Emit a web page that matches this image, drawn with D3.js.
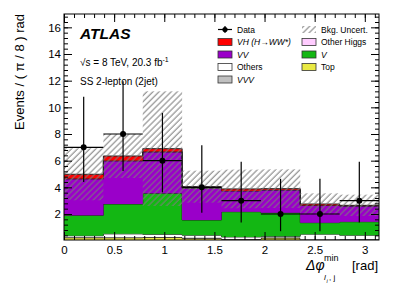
<!DOCTYPE html>
<meta charset="utf-8">
<script src="https://d3js.org/d3.v7.min.js"></script>
<style>
  body { margin: 0; background: #fff; }
  text { font-family: "Liberation Sans", Arial, sans-serif; }
</style>
<body></body>
<script>
  // data per bin of dphi (8 bins of pi/8)
  var nBins = 8;
  var dataVals = [7, 8, 6, 4, 3, 2, 2, 3];
  var dataErrUp = [3.8, 3.96, 3.58, 3.16, 2.92, 2.64, 2.64, 2.92];
  var dataErrDn = [2.6, 2.77, 2.38, 1.91, 1.63, 1.29, 1.29, 1.63];

  // backgrounds, bottom to top of the stack
  var bkgTop    = [0.22, 0.22, 0.25, 0.18, 0.10, 0.20, 0.06, 0.08];
  var bkgVVV    = [0.03, 0.04, 0.03, 0.03, 0.03, 0.03, 0.03, 0.03];
  var bkgOthers = [0.12, 0.25, 0.20, 0.20, 0.15, 0.10, 0.40, 0.30];
  var bkgV      = [1.53, 2.24, 3.07, 1.14, 1.89, 1.77, 0.86, 1.01];
  var bkgVV     = [2.73, 3.23, 3.10, 2.38, 1.56, 1.70, 1.30, 1.18];
  var sigOtherH = [0.03, 0.04, 0.04, 0.02, 0.02, 0.02, 0.01, 0.01];
  var sigVH     = [0.32, 0.33, 0.21, 0.10, 0.13, 0.08, 0.09, 0.04];
  var bkgUnc    = [1.95, 1.65, 4.3, 1.2, 1.45, 1.45, 0.8, 0.8];

  var yMajor = [2, 4, 6, 8, 10, 12, 14, 16];
  var xMajor = [0, 0.5, 1, 1.5, 2, 2.5, 3];

  var svg = d3.select("body")
    .append("svg")
    .attr("width", 399)
    .attr("height", 286);

  var x = d3.scaleLinear().domain([0, Math.PI]).range([64, 379]);
  var y = d3.scaleLinear().domain([0.05, 17]).range([240, 14]);

  var edges = d3.range(nBins + 1).map(function(i){ return i * Math.PI / nBins; });

  var layers = [
    {key: "top", vals: bkgTop, color: "#eaea44"},
    {key: "vvv", vals: bkgVVV, color: "#c0c0c0"},
    {key: "others", vals: bkgOthers, color: "#ffffff"},
    {key: "v", vals: bkgV, color: "#13b713"},
    {key: "vv", vals: bkgVV, color: "#9a00c9"},
    {key: "oh", vals: sigOtherH, color: "#ffccff"},
    {key: "vh", vals: sigVH, color: "#ff0000"}
  ];

  var rows = d3.range(nBins).map(function(i){
    var r = {};
    layers.forEach(function(l){ r[l.key] = l.vals[i]; });
    return r;
  });
  var stacked = d3.stack().keys(layers.map(function(l){ return l.key; }))(rows);

  // hatch pattern for bkg uncertainty
  var defs = svg.append("defs");
  defs.append("clipPath").attr("id", "plotclip")
    .append("rect").attr("x", 64).attr("y", 14).attr("width", 315).attr("height", 226);
  defs.append("pattern")
    .attr("id", "hatch")
    .attr("patternUnits", "userSpaceOnUse")
    .attr("width", 4.3).attr("height", 10)
    .attr("patternTransform", "rotate(45)")
    .append("line")
    .attr("x1", 1).attr("y1", 0).attr("x2", 1).attr("y2", 10)
    .style("stroke", "#7a7a7a").style("stroke-width", 1);

  var plot = svg.append("g").attr("clip-path", "url(#plotclip)");

  function stepPts(series, which) {
    var pts = series.map(function(d, i){ return [edges[i], d[which]]; });
    pts.push([edges[nBins], series[nBins - 1][which]]);
    return pts;
  }

  var area = d3.area()
    .curve(d3.curveStepAfter)
    .x(function(d){ return x(d[0]); })
    .y0(function(d){ return y(d[1]); })
    .y1(function(d){ return y(d[2]); });

  stacked.forEach(function(s, k){
    var lo = stepPts(s, 0), hi = stepPts(s, 1);
    var pts = lo.map(function(p, i){ return [p[0], p[1], hi[i][1]]; });
    plot.append("path")
      .attr("d", area(pts))
      .style("fill", layers[k].color)
      .style("stroke", "none");
    plot.append("path")
      .attr("d", d3.line().curve(d3.curveStepAfter)
        .x(function(d){ return x(d[0]); })
        .y(function(d){ return y(d[2]); })(pts))
      .style("fill", "none")
      .style("stroke", "#222")
      .style("stroke-width", 1);
  });

  // uncertainty band
  var totals = stacked[stacked.length - 1].map(function(d){ return d[1]; });
  plot.selectAll("rect.unc")
    .data(totals)
    .enter()
    .append("rect")
    .attr("class", "unc")
    .attr("x", function(d, i){ return x(edges[i]); })
    .attr("width", function(d, i){ return x(edges[i + 1]) - x(edges[i]); })
    .attr("y", function(d, i){ return y(d + bkgUnc[i]); })
    .attr("height", function(d, i){ return y(d - bkgUnc[i]) - y(d + bkgUnc[i]); })
    .style("fill", "url(#hatch)");

  // data points
  var pts = svg.append("g");
  dataVals.forEach(function(v, i){
    var cx = x((edges[i] + edges[i + 1]) / 2);
    pts.append("line")
      .attr("x1", x(edges[i])).attr("x2", x(edges[i + 1]))
      .attr("y1", y(v)).attr("y2", y(v))
      .style("stroke", "#000").style("stroke-width", 1.2);
    pts.append("line")
      .attr("x1", cx).attr("x2", cx)
      .attr("y1", y(v + dataErrUp[i])).attr("y2", y(v - dataErrDn[i]))
      .style("stroke", "#000").style("stroke-width", 1.2);
    pts.append("circle")
      .attr("cx", cx).attr("cy", y(v)).attr("r", 3)
      .style("fill", "#000");
  });

  // axes, ticks pointing inward
  function minorVals(lo, hi, step) {
    return d3.range(Math.round((hi - lo) / step) + 1).map(function(i){ return +(lo + i * step).toFixed(2); });
  }
  var yMinor = minorVals(0.4, 16.8, 0.4);
  var xMinor = minorVals(0, 3.1, 0.1);

  function addAxis(axisFn, scale, pos, vals, size, labels) {
    var a = axisFn(scale).tickValues(vals).tickSize(-size).tickPadding(labels ? 5 : 0)
      .tickFormat(labels ? function(d){ return d; } : "");
    var g = svg.append("g").attr("transform", pos).call(a);
    g.select(".domain").remove();
    g.selectAll("line").style("stroke", "#000");
    g.selectAll("text").style("font-size", "11.5px").style("fill", "#000")
      .style("font-family", "'Liberation Sans', Arial, sans-serif");
    return g;
  }
  addAxis(d3.axisLeft, y, "translate(64,0)", yMajor, 8, true).selectAll("text").attr("x", -3);
  addAxis(d3.axisLeft, y, "translate(64,0)", yMinor, 4, false);
  addAxis(d3.axisRight, y, "translate(379,0)", yMajor, 8, false);
  addAxis(d3.axisRight, y, "translate(379,0)", yMinor, 4, false);
  addAxis(d3.axisBottom, x, "translate(0,240)", xMajor, 8, true).selectAll("text").attr("y", 6);
  addAxis(d3.axisBottom, x, "translate(0,240)", xMinor, 4, false);
  addAxis(d3.axisTop, x, "translate(0,14)", xMajor, 8, false);
  addAxis(d3.axisTop, x, "translate(0,14)", xMinor, 4, false);

  svg.append("rect")
    .attr("x", 64).attr("y", 14).attr("width", 315).attr("height", 226)
    .style("fill", "none").style("stroke", "#000").style("stroke-width", 1);

  // axis titles
  svg.append("text")
    .attr("transform", "translate(24,14) rotate(-90)")
    .attr("text-anchor", "end")
    .style("font-size", "13px")
    .text("Events / ( \u03c0 / 8 ) rad");

  var xt = svg.append("g").style("fill", "#000");
  xt.append("text").attr("x", 306).attr("y", 270)
    .style("font-size", "14px").style("font-style", "italic").text("\u0394\u03c6");
  xt.append("text").attr("x", 324).attr("y", 261)
    .style("font-size", "9px").text("min");
  xt.append("text").attr("x", 324).attr("y", 280)
    .style("font-size", "8px").style("font-style", "italic").text("l");
  xt.append("text").attr("x", 326.5).attr("y", 282.5)
    .style("font-size", "5.5px").style("font-style", "italic").text("i");
  xt.append("text").attr("x", 329).attr("y", 280)
    .style("font-size", "8px").text(", j");
  xt.append("text").attr("x", 378).attr("y", 270).attr("text-anchor", "end")
    .style("font-size", "13px").text("[rad]");

  // ATLAS labels
  svg.append("text").attr("x", 80).attr("y", 39)
    .style("font-size", "15.5px").style("font-weight", "bold").style("font-style", "italic")
    .text("ATLAS");
  var lumi = svg.append("text").attr("x", 80).attr("y", 66).style("font-size", "10px");
  lumi.append("tspan").text("\u221as = 8 TeV, 20.3 fb");
  lumi.append("tspan").attr("dy", -4).style("font-size", "7px").text("-1");
  svg.append("text").attr("x", 80).attr("y", 85).style("font-size", "10px")
    .text("SS 2-lepton (2jet)");

  // legend
  var legCol1 = [
    {label: "Data", type: "data"},
    {label: "VH (H\u2192WW*)", color: "#ff0000", italic: true},
    {label: "VV", color: "#9a00c9", italic: true},
    {label: "Others", color: "#ffffff"},
    {label: "VVV", color: "#c0c0c0", italic: true}
  ];
  var legCol2 = [
    {label: "Bkg. Uncert.", type: "hatch"},
    {label: "Other Higgs", color: "#ffccff"},
    {label: "V", color: "#13b713", italic: true},
    {label: "Top", color: "#eaea44"}
  ];
  function drawLegend(items, bx) {
    items.forEach(function(it, i){
      var cy = 29.5 + i * 12.5;
      var g = svg.append("g");
      if (it.type === "data") {
        g.append("line").attr("x1", bx).attr("x2", bx + 14).attr("y1", cy).attr("y2", cy)
          .style("stroke", "#000").style("stroke-width", 1.2);
        g.append("line").attr("x1", bx + 7).attr("x2", bx + 7).attr("y1", cy - 3.5).attr("y2", cy + 3.5)
          .style("stroke", "#000").style("stroke-width", 1.2);
        g.append("circle").attr("cx", bx + 7).attr("cy", cy).attr("r", 2.6).style("fill", "#000");
      } else if (it.type === "hatch") {
        g.append("rect").attr("x", bx).attr("y", cy - 3.5).attr("width", 14).attr("height", 7)
          .style("fill", "url(#hatch)");
      } else {
        g.append("rect").attr("x", bx).attr("y", cy - 3.5).attr("width", 14).attr("height", 7)
          .style("fill", it.color).style("stroke", "#333").style("stroke-width", 0.8);
      }
      g.append("text").attr("x", bx + 19).attr("y", cy + 3)
        .style("font-size", "8.5px")
        .style("font-style", it.italic ? "italic" : "normal")
        .text(it.label);
    });
  }
  drawLegend(legCol1, 218);
  drawLegend(legCol2, 302);
</script>
